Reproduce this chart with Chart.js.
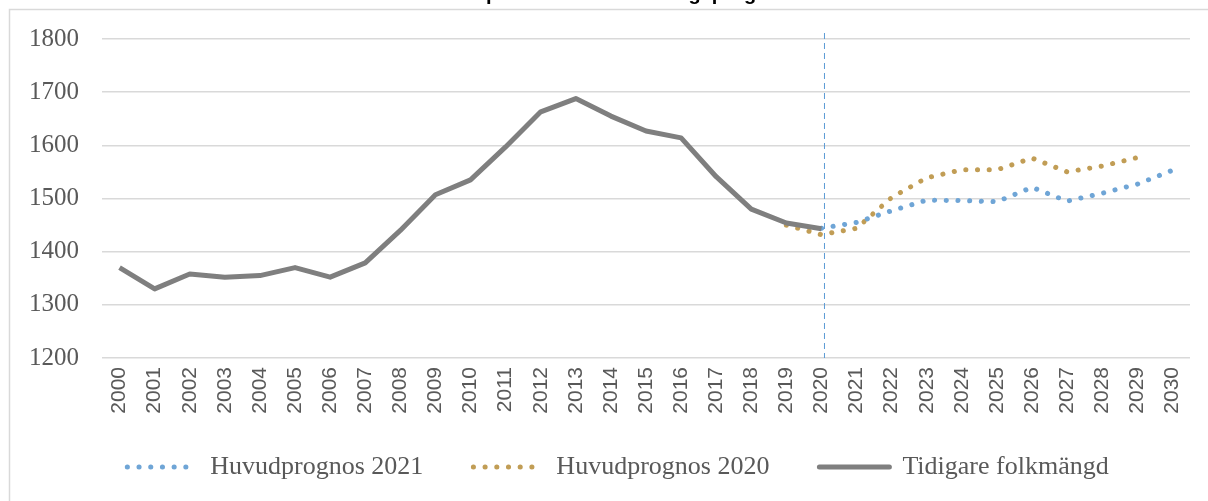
<!DOCTYPE html>
<html>
<head>
<meta charset="utf-8">
<title>Folkmängd och prognos</title>
<script src="https://cdn.jsdelivr.net/npm/chart.js@4.4.1/dist/chart.umd.min.js"></script>
<style>
  html, body { margin: 0; padding: 0; background: #fff; overflow: hidden; }
  /* title sits mostly above the visible window, like the cropped original */
  #wrap { position: absolute; left: 0; top: -24px; width: 1208px; height: 540px; }
</style>
</head>
<body>
<div id="wrap"><canvas id="chart"></canvas></div>
<script>
const years = ['2000', '2001', '2002', '2003', '2004', '2005', '2006', '2007', '2008', '2009',
  '2010', '2011', '2012', '2013', '2014', '2015', '2016', '2017', '2018', '2019',
  '2020', '2021', '2022', '2023', '2024', '2025', '2026', '2027', '2028', '2029', '2030'];

const tidigare = [1370, 1330, 1358, 1352, 1355, 1370, 1352, 1379, 1440, 1507,
  1535, 1597, 1663, 1688, 1655, 1627, 1614, 1541, 1480, 1454,
  1443, null, null, null, null, null, null, null, null, null, null];

const prognos2021 = [null, null, null, null, null, null, null, null, null, null,
  null, null, null, null, null, null, null, null, null, null,
  1444, 1455, 1477, 1497, 1496, 1494, 1521, 1495, 1510, 1527, 1553];

const prognos2020 = [null, null, null, null, null, null, null, null, null, null,
  null, null, null, null, null, null, null, null, null, 1450,
  1432, 1444, 1502, 1539, 1554, 1554, 1576, 1550, 1561, 1577, null];

const yTicks = [1200, 1300, 1400, 1500, 1600, 1700, 1800];
const splitYear = '2020';

const textColor = '#595959';
Chart.defaults.font.family = "'Liberation Serif', 'DejaVu Serif', serif";
Chart.defaults.color = textColor;

// light frame around the chart area, like the excel chart box
const framePlugin = {
  id: 'frame',
  beforeDraw(chart) {
    const ctx = chart.ctx;
    ctx.save();
    ctx.strokeStyle = '#d9d9d9';
    ctx.lineWidth = 1.5;
    ctx.strokeRect(9.5, 33.5, 1400, 1000);
    ctx.restore();
  }
};

// dashed vertical marker at the last observed year
const markerPlugin = {
  id: 'marker',
  beforeDatasetsDraw(chart) {
    const ctx = chart.ctx;
    const x = chart.scales.x.getPixelForValue(years.indexOf(splitYear)) + 3;
    ctx.save();
    ctx.strokeStyle = '#5b9bd5';
    ctx.lineWidth = 1;
    ctx.setLineDash([6, 4]);
    ctx.beginPath();
    ctx.moveTo(x, chart.chartArea.top - 6);
    ctx.lineTo(x, chart.chartArea.bottom);
    ctx.stroke();
    ctx.restore();
  }
};

// move the legend row a little right and up, as in the original
const legendShift = {
  id: 'legendShift',
  afterLayout(chart) {
    chart.legend.left += 46;
    chart.legend.top -= 14;
  }
};

new Chart(document.getElementById('chart'), {
  type: 'line',
  data: {
    labels: years,
    datasets: [
      {
        label: 'Huvudprognos 2021',
        data: prognos2021,
        borderColor: '#6fa5d6',
        borderWidth: 5,
        borderDash: [0.1, 11.6],
        borderCapStyle: 'round',
        pointRadius: 0,
        order: 2,
      },
      {
        label: 'Huvudprognos 2020',
        data: prognos2020,
        borderColor: '#c19d55',
        borderWidth: 5,
        borderDash: [0.1, 11.6],
        borderCapStyle: 'round',
        pointRadius: 0,
        order: 3,
      },
      {
        label: 'Tidigare folkmängd',
        data: tidigare,
        borderColor: '#7f7f7f',
        borderWidth: 5,
        borderJoinStyle: 'round',
        pointRadius: 0,
        order: 1,
      },
    ],
  },
  options: {
    responsive: true,
    maintainAspectRatio: false,
    animation: false,
    spanGaps: false,
    layout: { padding: { top: 6, right: 18, left: 0, bottom: 12 } },
    plugins: {
      title: {
        display: true,
        text: 'Invånare per år samt befolkningsprognos',
        color: '#000',
        font: { family: "'Liberation Sans', sans-serif", size: 20, weight: 'bold' },
        padding: { top: 0, bottom: 33 },
      },
      legend: {
        position: 'bottom',
        labels: {
          usePointStyle: true,
          pointStyleWidth: 70,
          padding: 50,
          font: { size: 26 },
          color: textColor,
          sort: (a, b) => a.datasetIndex - b.datasetIndex,
          generateLabels(chart) {
            return chart.data.datasets.map((ds, i) => ({
              text: ds.label,
              datasetIndex: i,
              pointStyle: 'line',
              strokeStyle: ds.borderColor,
              fillStyle: ds.borderColor,
              lineWidth: 5,
              lineDash: ds.borderDash || [],
              lineCap: 'round',
              fontColor: textColor,
              hidden: false,
            }));
          },
        },
      },
      tooltip: { enabled: false },
    },
    scales: {
      x: {
        offset: true,
        grid: { display: false, drawTicks: false },
        border: { display: false },
        ticks: {
          minRotation: 90,
          maxRotation: 90,
          autoSkip: false,
          padding: 9,
          color: textColor,
          font: { family: "'Liberation Sans', sans-serif", size: 21 },
        },
        afterFit(scale) { scale.height = 60; },
      },
      y: {
        min: 1200,
        max: 1800,
        grid: { color: '#d9d9d9', lineWidth: 1.5, drawTicks: false },
        border: { display: false },
        afterBuildTicks(scale) { scale.ticks = yTicks.map(v => ({ value: v })); },
        ticks: {
          padding: 23,
          color: textColor,
          font: { size: 25 },
          callback: v => String(v),
        },
        afterFit(scale) { scale.width = 102; },
      },
    },
  },
  plugins: [framePlugin, markerPlugin, legendShift],
});
</script>
</body>
</html>
